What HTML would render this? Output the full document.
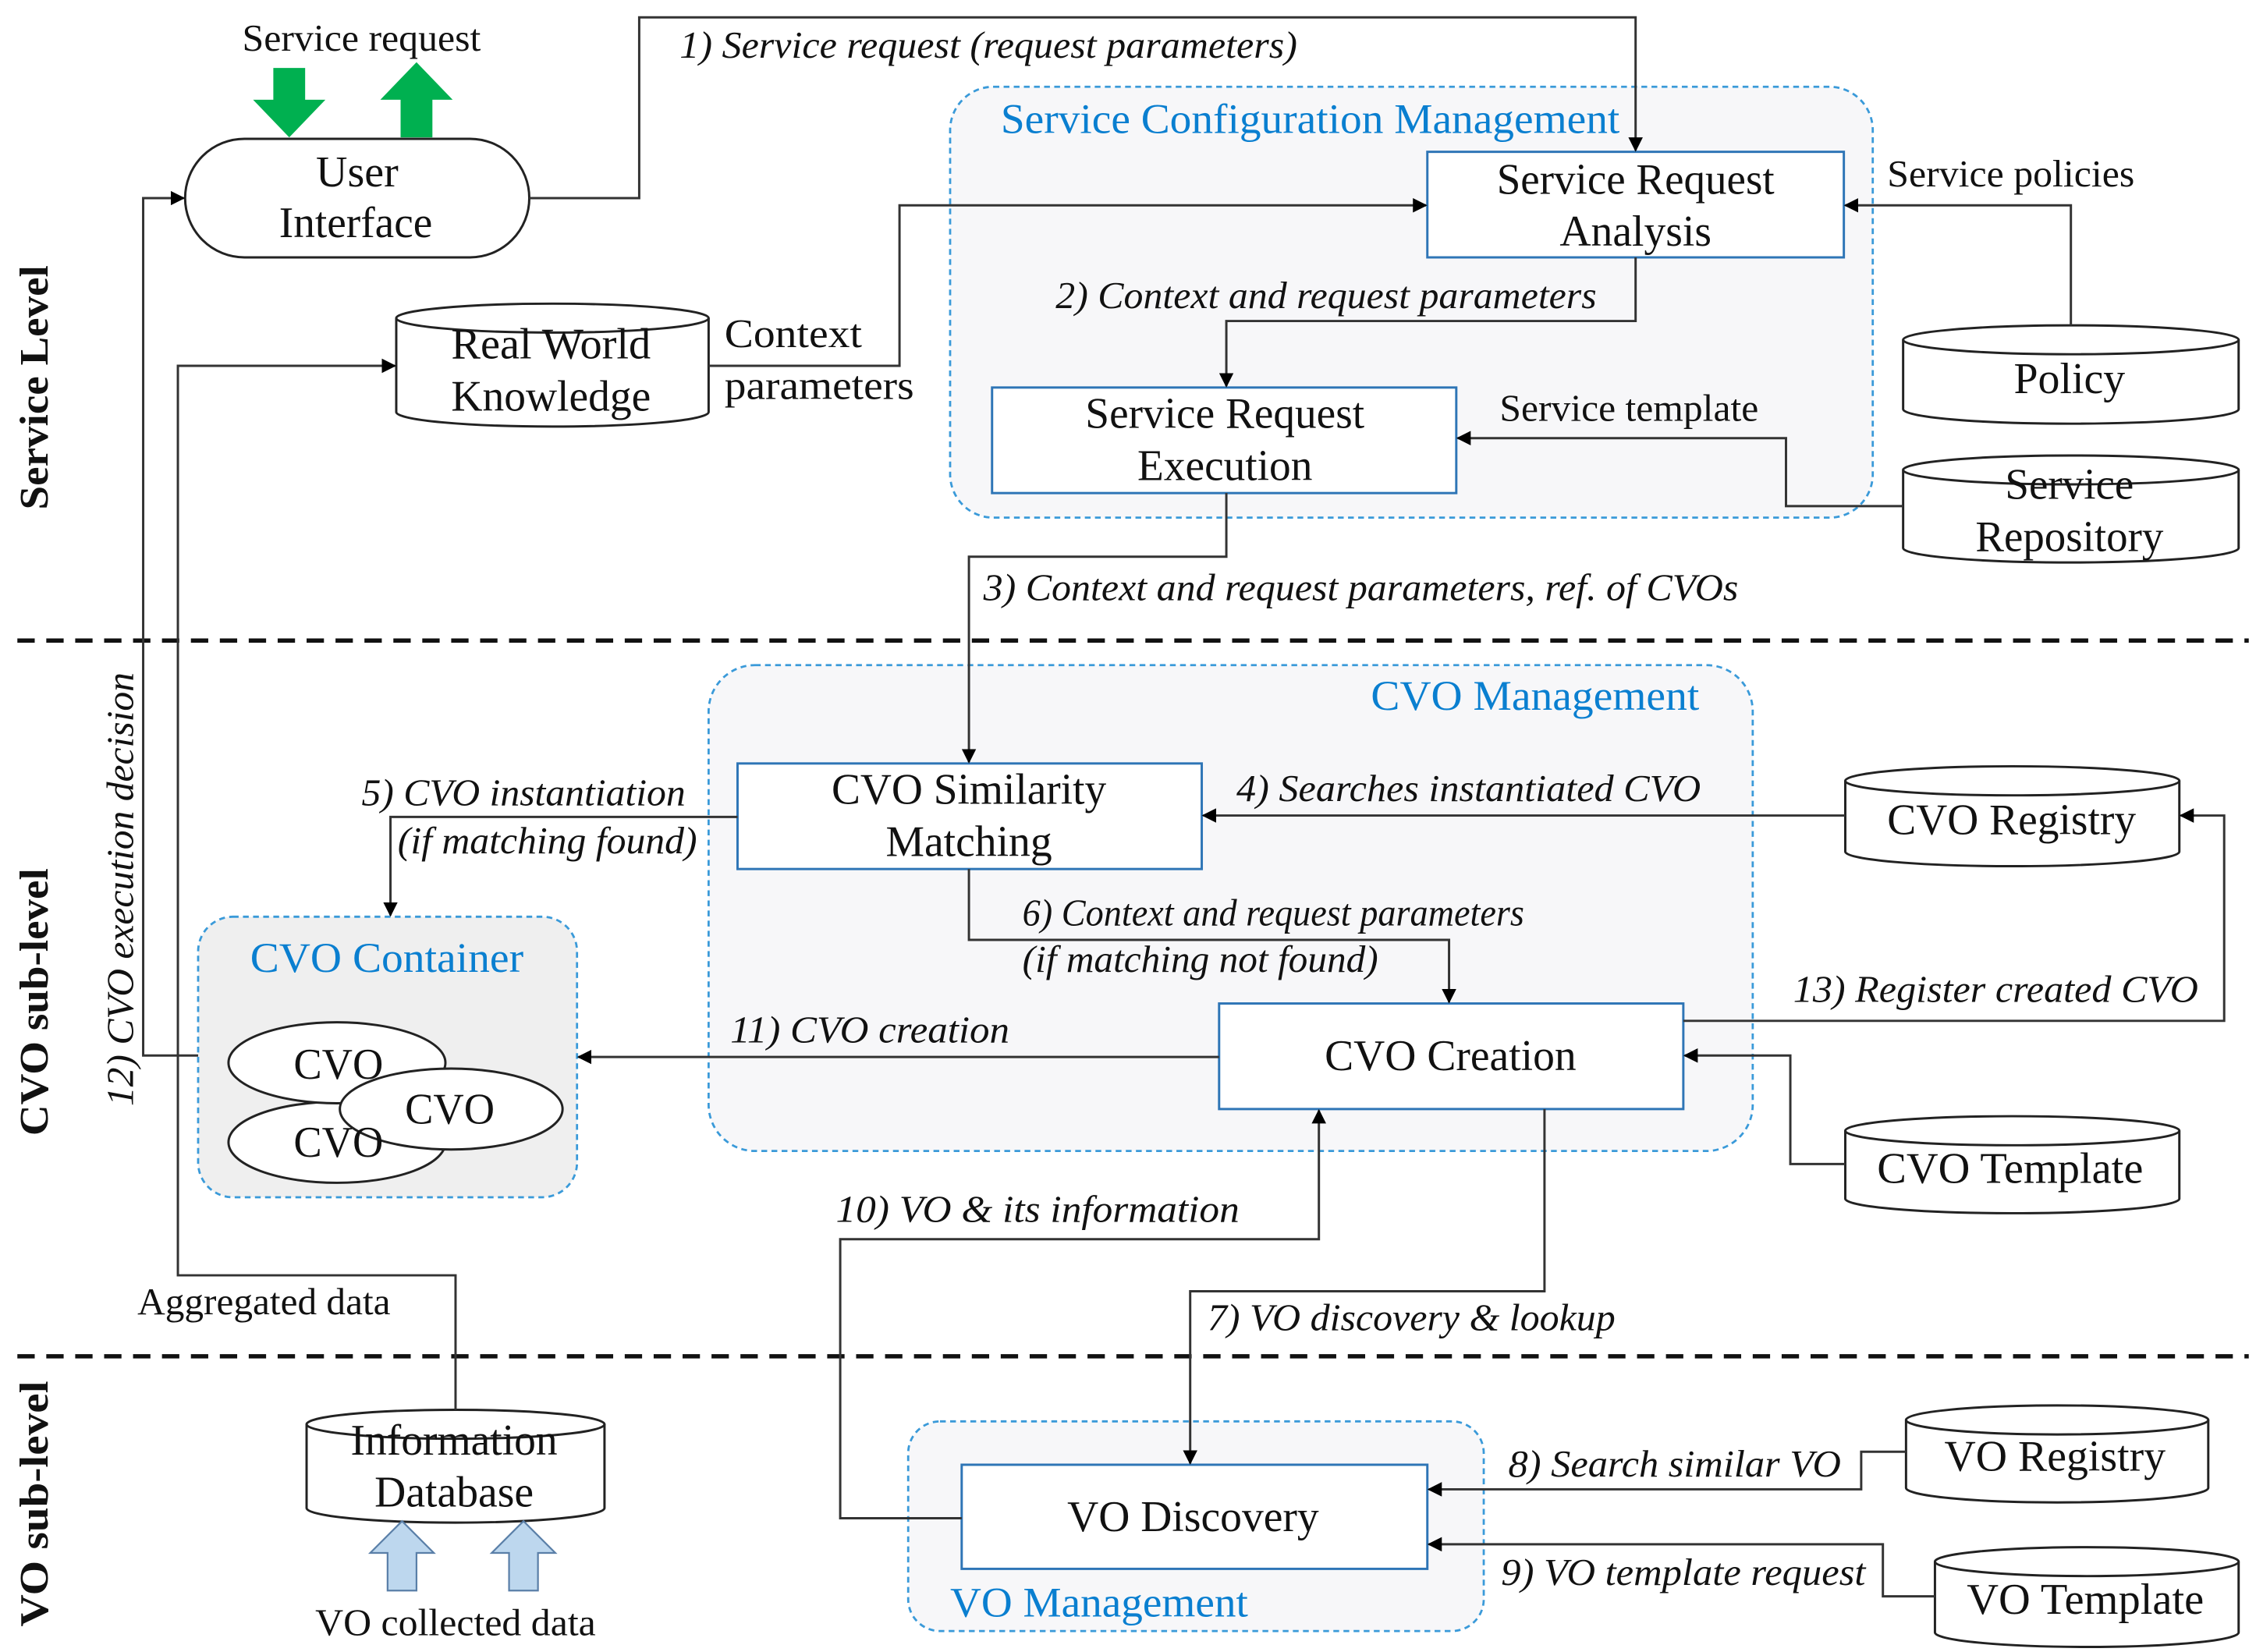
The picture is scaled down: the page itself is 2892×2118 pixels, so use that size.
<!DOCTYPE html>
<html><head><meta charset="utf-8"><style>
html,body{margin:0;padding:0;background:#fff}
svg{display:block}
text{font-family:"Liberation Serif",serif;fill:#111}
.n{font-size:30px;text-anchor:middle}
.i{font-size:26.5px;font-style:italic}
.b{font-size:29px;fill:#0a7fd0}
.l{fill:none;stroke:#333;stroke-width:1.6}
.p{font-size:26px}
</style></head><body>
<svg width="2892" height="2118" viewBox="0 0 1560 1142.5" xmlns="http://www.w3.org/2000/svg">
<defs>
<marker id="a" markerWidth="10" markerHeight="10" refX="9" refY="5" orient="auto" markerUnits="userSpaceOnUse" viewBox="0 0 10 10">
<path d="M0,0 L10,5 L0,10 z" fill="#000"/></marker>
</defs>
<line x1="12" y1="443" x2="1555" y2="443" stroke="#111" stroke-width="3" stroke-dasharray="12,8"/>
<line x1="12" y1="938" x2="1555" y2="938" stroke="#111" stroke-width="3" stroke-dasharray="12,8"/>
<text transform="translate(33,268) rotate(-90)" text-anchor="middle" style="font-weight:bold;font-size:28px" textLength="169" lengthAdjust="spacingAndGlyphs">Service Level</text>
<text transform="translate(33,693) rotate(-90)" text-anchor="middle" style="font-weight:bold;font-size:28px" textLength="185" lengthAdjust="spacingAndGlyphs">CVO sub-level</text>
<text transform="translate(33,1040) rotate(-90)" text-anchor="middle" style="font-weight:bold;font-size:28px" textLength="170" lengthAdjust="spacingAndGlyphs">VO sub-level</text>
<text class="i" transform="translate(92,615) rotate(-90)" text-anchor="middle" textLength="300" lengthAdjust="spacingAndGlyphs">12) CVO execution decision</text>

<rect x="657" y="60" width="638" height="298" rx="30" fill="#f7f7f9" stroke="#3a9ad9" stroke-width="1.5" stroke-dasharray="4,3"/>
<text class="b" x="692" y="92" textLength="428" lengthAdjust="spacingAndGlyphs">Service Configuration Management</text>
<rect x="490" y="460" width="722" height="336" rx="32" fill="#f7f7f9" stroke="#3a9ad9" stroke-width="1.5" stroke-dasharray="4,3"/>
<text class="b" x="948" y="491" textLength="227" lengthAdjust="spacingAndGlyphs">CVO Management</text>
<rect x="137" y="634" width="262" height="194" rx="24" fill="#efefef" stroke="#3a9ad9" stroke-width="1.5" stroke-dasharray="4,3"/>
<text class="b" x="173" y="672" textLength="189" lengthAdjust="spacingAndGlyphs">CVO Container</text>
<rect x="628" y="983" width="398" height="145" rx="22" fill="#f7f7f9" stroke="#3a9ad9" stroke-width="1.5" stroke-dasharray="4,3"/>
<text class="b" x="657" y="1118" textLength="206" lengthAdjust="spacingAndGlyphs">VO Management</text>

<rect x="128" y="96" width="238" height="82" rx="41" fill="#fff" stroke="#222" stroke-width="1.6"/>
<text class="n" x="247" y="129" textLength="57" lengthAdjust="spacingAndGlyphs">User</text><text class="n" x="246" y="164" textLength="106" lengthAdjust="spacingAndGlyphs">Interface</text>
<text x="250" y="35" class="p" style="text-anchor:middle" textLength="165" lengthAdjust="spacingAndGlyphs">Service request</text>
<path d="M189,47 h22 v22 h14 l-25,26 l-25,-26 h14z" fill="#00b050"/>
<path d="M277,95 v-26 h-14 l25,-26 l25,26 h-14 v26z" fill="#00b050"/>

<rect x="987" y="105" width="288" height="73" fill="#fff" stroke="#2e75b6" stroke-width="1.6"/>
<text class="n" x="1131" y="134" textLength="192" lengthAdjust="spacingAndGlyphs">Service Request</text><text class="n" x="1131" y="170" textLength="105" lengthAdjust="spacingAndGlyphs">Analysis</text>
<rect x="686" y="268" width="321" height="73" fill="#fff" stroke="#2e75b6" stroke-width="1.6"/>
<text class="n" x="847" y="296" textLength="193" lengthAdjust="spacingAndGlyphs">Service Request</text><text class="n" x="847" y="332" textLength="121" lengthAdjust="spacingAndGlyphs">Execution</text>
<rect x="510" y="528" width="321" height="73" fill="#fff" stroke="#2e75b6" stroke-width="1.6"/>
<text class="n" x="670" y="556" textLength="190" lengthAdjust="spacingAndGlyphs">CVO Similarity</text><text class="n" x="670" y="592" textLength="115" lengthAdjust="spacingAndGlyphs">Matching</text>
<rect x="843" y="694" width="321" height="73" fill="#fff" stroke="#2e75b6" stroke-width="1.6"/>
<text class="n" x="1003" y="740" textLength="174" lengthAdjust="spacingAndGlyphs">CVO Creation</text>
<rect x="665" y="1013" width="322" height="72" fill="#fff" stroke="#2e75b6" stroke-width="1.6"/>
<text class="n" x="825" y="1059" textLength="174" lengthAdjust="spacingAndGlyphs">VO Discovery</text>

<g fill="#fff" stroke="#222" stroke-width="1.6">
<path d="M274,220 a108,10 0 0 1 216,0 v65 a108,10 0 0 1 -216,0z"/><path d="M274,220 a108,10 0 0 0 216,0" fill="none"/>
<path d="M1316,235 a116,10 0 0 1 232,0 v48 a116,10 0 0 1 -232,0z"/><path d="M1316,235 a116,10 0 0 0 232,0" fill="none"/>
<path d="M1316,325 a116,10 0 0 1 232,0 v54 a116,10 0 0 1 -232,0z"/><path d="M1316,325 a116,10 0 0 0 232,0" fill="none"/>
<path d="M1276,540 a115,10 0 0 1 231,0 v49 a115,10 0 0 1 -231,0z"/><path d="M1276,540 a115,10 0 0 0 231,0" fill="none"/>
<path d="M1276,782 a115,10 0 0 1 231,0 v47 a115,10 0 0 1 -231,0z"/><path d="M1276,782 a115,10 0 0 0 231,0" fill="none"/>
<path d="M1318,982 a104,10 0 0 1 209,0 v47 a104,10 0 0 1 -209,0z"/><path d="M1318,982 a104,10 0 0 0 209,0" fill="none"/>
<path d="M1338,1080 a105,10 0 0 1 210,0 v49 a105,10 0 0 1 -210,0z"/><path d="M1338,1080 a105,10 0 0 0 210,0" fill="none"/>
<path d="M212,985 a103,10 0 0 1 206,0 v58 a103,10 0 0 1 -206,0z"/><path d="M212,985 a103,10 0 0 0 206,0" fill="none"/>
</g>
<text class="n" x="381" y="248" textLength="138" lengthAdjust="spacingAndGlyphs">Real World</text><text class="n" x="381" y="284" textLength="138" lengthAdjust="spacingAndGlyphs">Knowledge</text>
<text class="n" x="1431" y="272" textLength="77" lengthAdjust="spacingAndGlyphs">Policy</text>
<text class="n" x="1431" y="345" textLength="89" lengthAdjust="spacingAndGlyphs">Service</text><text class="n" x="1431" y="381" textLength="130" lengthAdjust="spacingAndGlyphs">Repository</text>
<text class="n" x="1391" y="577" textLength="172" lengthAdjust="spacingAndGlyphs">CVO Registry</text>
<text class="n" x="1390" y="818" textLength="184" lengthAdjust="spacingAndGlyphs">CVO Template</text>
<text class="n" x="1421" y="1017" textLength="153" lengthAdjust="spacingAndGlyphs">VO Registry</text>
<text class="n" x="1442" y="1116" textLength="164" lengthAdjust="spacingAndGlyphs">VO Template</text>
<text class="n" x="314" y="1006" textLength="143" lengthAdjust="spacingAndGlyphs">Information</text><text class="n" x="314" y="1042" textLength="110" lengthAdjust="spacingAndGlyphs">Database</text>

<g fill="#fff" stroke="#222" stroke-width="1.6">
<ellipse cx="233" cy="790" rx="75" ry="28"/>
<ellipse cx="233" cy="735" rx="75" ry="28"/>
<ellipse cx="312" cy="767" rx="77" ry="28"/>
</g>
<text class="n" x="234" y="746" textLength="62" lengthAdjust="spacingAndGlyphs">CVO</text><text class="n" x="234" y="800" textLength="62" lengthAdjust="spacingAndGlyphs">CVO</text><text class="n" x="311" y="777" textLength="62" lengthAdjust="spacingAndGlyphs">CVO</text>

<path d="M268,1100 v-26 h-12 l22,-22 l22,22 h-12 v26z" fill="#bdd7ee" stroke="#5a7fa8" stroke-width="1.2"/>
<path d="M352,1100 v-26 h-12 l22,-22 l22,22 h-12 v26z" fill="#bdd7ee" stroke="#5a7fa8" stroke-width="1.2"/>
<text x="315" y="1131" class="p" style="text-anchor:middle" textLength="194" lengthAdjust="spacingAndGlyphs">VO collected data</text>

<g class="l">
<path d="M366,137 H442 V12 H1131 V104" marker-end="url(#a)"/>
<path d="M1131,178 V222 H848 V267" marker-end="url(#a)"/>
<path d="M490,253 H622 V142 H986" marker-end="url(#a)"/>
<path d="M1432,225 V142 H1276" marker-end="url(#a)"/>
<path d="M1316,350 H1235 V303 H1008" marker-end="url(#a)"/>
<path d="M848,341 V385 H670 V527" marker-end="url(#a)"/>
<path d="M1276,564 H832" marker-end="url(#a)"/>
<path d="M510,565 H270 V633" marker-end="url(#a)"/>
<path d="M670,601 V650 H1002 V693" marker-end="url(#a)"/>
<path d="M843,731 H400" marker-end="url(#a)"/>
<path d="M1164,706 H1538 V564 H1508" marker-end="url(#a)"/>
<path d="M1276,805 H1238 V730 H1165" marker-end="url(#a)"/>
<path d="M1068,767 V893 H823 V1012" marker-end="url(#a)"/>
<path d="M665,1050 H581 V857 H912 V768" marker-end="url(#a)"/>
<path d="M1318,1004 H1287 V1030 H988" marker-end="url(#a)"/>
<path d="M1338,1104 H1302 V1068 H988" marker-end="url(#a)"/>
<path d="M315,975 V882 H123 V253 H273" marker-end="url(#a)"/>
<path d="M137,730 H99 V137 H127" marker-end="url(#a)"/>
</g>

<text class="i" x="470" y="40" textLength="427" lengthAdjust="spacingAndGlyphs">1) Service request (request parameters)</text>
<text x="1305" y="129" class="p" textLength="171" lengthAdjust="spacingAndGlyphs">Service policies</text>
<text class="i" x="730" y="213" textLength="374" lengthAdjust="spacingAndGlyphs">2) Context and request parameters</text>
<text x="501" y="240" style="font-size:28px" textLength="95" lengthAdjust="spacingAndGlyphs">Context</text>
<text x="501" y="276" style="font-size:28px" textLength="131" lengthAdjust="spacingAndGlyphs">parameters</text>
<text x="1037" y="291" class="p" textLength="179" lengthAdjust="spacingAndGlyphs">Service template</text>
<text class="i" x="680" y="415" textLength="522" lengthAdjust="spacingAndGlyphs">3) Context and request parameters, ref. of CVOs</text>
<text class="i" x="855" y="554" textLength="321" lengthAdjust="spacingAndGlyphs">4) Searches instantiated CVO</text>
<text class="i" x="250" y="557" textLength="224" lengthAdjust="spacingAndGlyphs">5) CVO instantiation</text>
<text class="i" x="275" y="590" textLength="207" lengthAdjust="spacingAndGlyphs">(if matching found)</text>
<text class="i" x="707" y="640" textLength="347" lengthAdjust="spacingAndGlyphs">6) Context and request parameters</text>
<text class="i" x="707" y="672" textLength="246" lengthAdjust="spacingAndGlyphs">(if matching not found)</text>
<text class="i" x="505" y="721" textLength="193" lengthAdjust="spacingAndGlyphs">11) CVO creation</text>
<text class="i" x="1240" y="693" textLength="280" lengthAdjust="spacingAndGlyphs">13) Register created CVO</text>
<text class="i" x="578" y="845" textLength="279" lengthAdjust="spacingAndGlyphs">10) VO &amp; its  information</text>
<text class="i" x="835" y="920" textLength="282" lengthAdjust="spacingAndGlyphs">7) VO discovery &amp; lookup</text>
<text x="95" y="909" class="p" textLength="175" lengthAdjust="spacingAndGlyphs">Aggregated data</text>
<text class="i" x="1043" y="1021" textLength="230" lengthAdjust="spacingAndGlyphs">8) Search similar VO</text>
<text class="i" x="1038" y="1096" textLength="252" lengthAdjust="spacingAndGlyphs">9) VO template request</text>
</svg>
</body></html>
